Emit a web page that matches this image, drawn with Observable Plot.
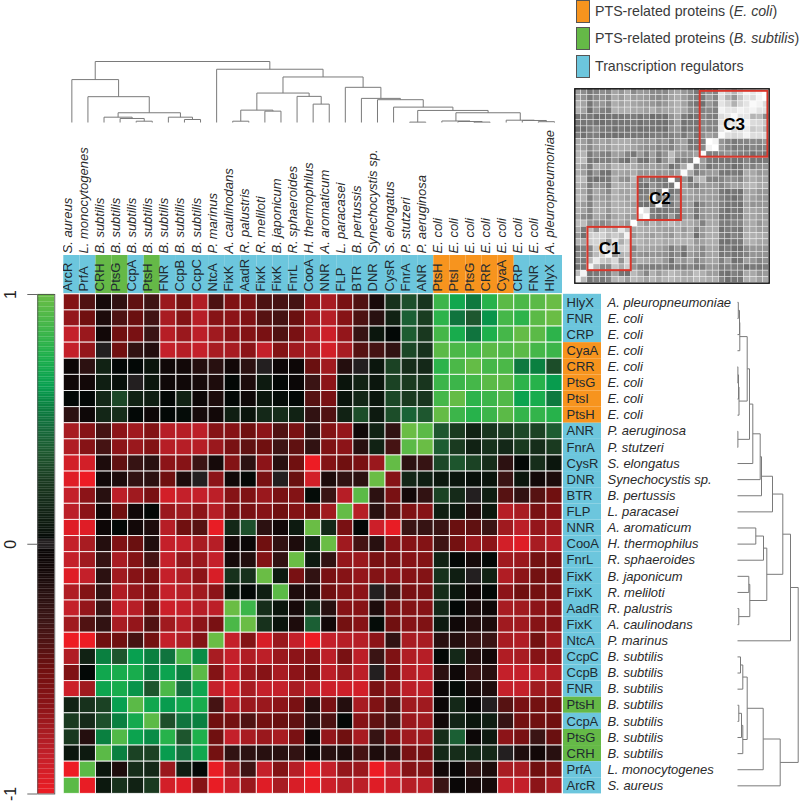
<!DOCTYPE html>
<html>
<head>
<meta charset="utf-8">
<script src="https://cdn.jsdelivr.net/npm/d3@7"></script>
<script src="https://cdn.jsdelivr.net/npm/@observablehq/plot@0.6"></script>
<style>
html,body{margin:0;padding:0;background:#fff}
#root{position:relative;width:800px;height:801px;overflow:hidden;font-family:"Liberation Sans",Arial,sans-serif}
#root svg{position:absolute;background:transparent}
.sw{position:absolute;left:576px;width:12px;height:21px;border:1px solid #555}
.lg{position:absolute;left:595px;font-size:14.2px;line-height:16px;color:#3a3a3a;white-space:nowrap}
</style>
</head>
<body>
<div id="root"></div>
<script>
const genes = ["ArcR","PrfA","CRH","PtsG","CcpA","PtsH","FNR","CcpB","CcpC","NtcA","FixK","AadR","FixK","FixK","FnrL","CooA","NNR","FLP","BTR","DNR","CysR","FnrA","ANR","PtsH","PtsI","PtsG","CRR","CyaA","CRP","FNR","HlyX"];
const species = ["S. aureus","L. monocytogenes","B. subtilis","B. subtilis","B. subtilis","B. subtilis","B. subtilis","B. subtilis","B. subtilis","P. marinus","A. caulinodans","R. palustris","R. meliloti","B. japonicum","R. sphaeroides","H. thermophilus","A. aromaticum","L. paracasei","B. pertussis","Synechocystis sp.","S. elongatus","P. stutzeri","P. aeruginosa","E. coli","E. coli","E. coli","E. coli","E. coli","E. coli","E. coli","A. pleuropneumoniae"];
const groups = ["t","t","b","b","t","b","t","t","t","t","t","t","t","t","t","t","t","t","t","t","t","t","t","e","e","e","e","e","t","t","t"];
const groupColors = {t:"#6cc6dd", e:"#f7941e", b:"#65b947"};

// rows top to bottom (reverse of the column order), columns left to right
const corr = [
[-.6,-.4,-.12,-.25,-.45,-.32,-.7,-.52,-.78,-.38,-.58,-.55,-.38,-.36,-.35,-.65,-.75,-.55,-.4,-.13,.2,.33,.22,.85,.68,.52,.78,.95,.9,.95,1],
[-.68,-.5,-.15,-.38,-.48,-.33,-.75,-.6,-.8,-.62,-.65,-.58,-.42,-.35,-.48,-.7,-.8,-.62,-.38,-.2,.12,.4,.26,.8,.5,.36,.6,.88,.8,.95,1],
[-.85,-.7,-.1,-.5,-.55,-.3,-.8,-.7,-.82,-.72,-.65,-.6,-.55,-.4,-.55,-.75,-.88,-.68,-.28,.06,.02,.38,.24,.88,.72,.5,.75,.88,.98,.95,.8],
[-.85,-.68,0,-.5,-.25,-.18,-.85,-.8,-.85,-.75,-.75,-.65,-.85,-.6,-.72,-.75,-.9,-.75,-.42,-.35,-.25,.3,.2,.95,.9,.88,.95,.92,.95,.88,.85],
[-.05,-.22,.12,.02,.02,.05,-.08,-.1,-.18,-.2,-.1,-.22,0,-.05,-.05,-.48,-.72,-.18,0,.06,.28,.18,.15,.8,.9,.98,.88,.9,.52,.55,.32],
[-.08,-.1,.1,.04,0,.06,-.07,-.08,-.12,-.15,.02,-.15,.08,.02,-.03,-.3,-.65,.05,.12,.06,.28,.25,.22,.85,.85,.88,.95,.95,.8,.78,.62],
[.02,.02,.15,.3,.12,.1,.02,.12,-.05,-.15,.02,-.07,.06,.03,.02,-.42,-.55,.05,.14,.06,.3,.25,.22,.88,.98,.8,.85,.92,.65,.72,.52],
[-.22,-.06,.14,.18,.02,-.05,.02,.03,-.12,-.1,.1,.05,.15,.17,.12,-.25,-.4,.12,.32,.08,.32,.42,.36,.98,.85,.78,.85,.95,.82,.82,.78],
[-.75,-.62,-.35,-.65,-.72,-.6,-.8,-.8,-.82,-.62,-.62,-.5,-.65,-.4,-.55,-.25,-.6,-.68,-.08,.12,-.25,1,.95,.36,.25,.12,.22,.25,.3,.28,.38],
[-.78,-.62,-.35,-.65,-.7,-.6,-.8,-.8,-.8,-.7,-.55,-.45,-.5,-.32,-.45,-.25,-.58,-.65,-.2,.12,-.35,.95,1,.38,.25,.12,.2,.15,.25,.18,.25],
[-.9,-.9,-.15,-.45,-.28,-.2,-.65,-.62,-.3,-.12,-.6,-.22,-.65,-.2,-.5,-1,-.6,-.5,-.55,-.7,.98,-.22,-.28,.3,.35,.28,.18,-.22,.02,.18,.06],
[-.95,-1,-.08,-.15,-.25,-.22,-.5,-.15,0,-.65,-.08,.02,-.55,0,-.48,-.9,-.15,-.25,-.22,1,-.62,.14,.1,.07,.06,.04,.05,-.3,.06,-.1,-.15],
[-.85,-.65,-.2,-.82,-.72,-.55,-.9,-.85,-.85,-.82,-.62,-.58,-.7,-.55,-.6,.03,-.3,-.8,.95,-.22,-.55,-.1,-.25,.28,.16,0,.1,-.42,-.25,-.42,-.5],
[-.82,-.65,-.1,-.5,-.08,.02,-.7,-.72,-.65,-.8,-.55,-.55,-.62,-.5,-.6,-.5,-.72,.98,-.8,-.2,-.45,-.58,-.62,.1,.08,-.18,.07,-.8,-.75,-.55,-.62],
[-.95,-.95,-.05,.02,-.1,-.15,-.8,-.5,-.42,-.98,.15,.33,-.22,-.1,.08,1,.15,-.55,.02,-.88,-.98,-.3,-.28,-.3,-.48,-.45,-.3,-.72,-.82,-.68,-.7],
[-.85,-.75,-.18,-.58,-.48,-.17,-.85,-.85,-.75,-.8,-.12,-.02,-.5,-.25,-.15,.12,1,-.72,-.35,-.2,-.62,-.62,-.6,-.32,-.52,-.7,-.65,-.9,-.95,-.75,-.8],
[-.85,-.72,-.28,-.75,-.6,-.35,-.85,-.68,-.7,-.85,-.12,-.17,-.6,-.25,1,.08,-.25,-.68,-.7,-.55,-.55,-.62,-.6,.12,.02,-.12,.02,-.72,-.7,-.52,-.55],
[-.95,-.85,-.22,-.72,-.62,-.52,-.85,-.78,-.65,-.92,.2,.2,1,.08,-.55,-.25,-.55,-.62,-.68,-.6,-.65,-.62,-.6,.2,.1,0,.12,-.78,-.65,-.52,-.55],
[-.78,-.6,-.25,-.78,-.68,-.55,-.85,-.8,-.72,-.65,.06,.02,.1,.95,-.15,-.15,-.5,-.6,-.65,0,-.35,-.55,-.55,.18,.06,-.1,.02,-.65,-.5,-.52,-.55],
[-.85,-.68,-.3,-.85,-.8,-.52,-.88,-.85,-.8,-.82,1,.85,.18,.06,-.12,.17,-.2,-.62,-.62,-.15,-.55,-.6,-.62,.15,.02,-.15,-.07,-.75,-.72,-.65,-.62],
[-.72,-.4,-.25,-.75,-.68,-.4,-.72,-.8,-.65,-.55,.9,1,.2,.05,-.15,.4,-.1,-.52,-.62,.03,-.5,-.62,-.58,.08,-.08,-.18,-.15,-.72,-.72,-.62,-.62],
[-1,-1,-.5,-.5,-.35,-.52,-.85,-.78,-.6,1,-.85,-.6,-.92,-.7,-.85,-1,-.85,-.8,-.8,-.65,-.25,-.75,-.75,-.2,-.18,-.3,-.3,-.75,-.78,-.52,-.72],
[-.78,.12,.55,.35,.63,.55,.5,.9,.58,-.75,-.85,-.78,-.82,-.7,-.65,-.62,-.82,-.55,-.82,-.3,-.58,-.78,-.8,.02,.15,-.18,-.1,-.78,-.75,-.62,-.65],
[-.58,.02,.68,.72,.72,.55,.65,.55,.95,-.6,-.85,-.7,-.62,-.75,-.65,-.52,-.82,-.7,-.82,0,-.55,-.8,-.82,-.22,-.07,-.3,-.2,-.85,-.85,-.82,-.78],
[-.88,-.72,.66,.72,.6,.35,.9,.48,.67,-.85,-.9,-.75,-.85,-.85,-.75,-.82,-.88,-.88,-.9,-.55,-.68,-.82,-.82,-.05,.03,-.14,-.16,-.85,-.85,-.72,-.72],
[.12,.2,.28,.63,.95,.68,.62,.68,.72,-.35,-.8,-.7,-.7,-.65,-.55,-.18,-.55,-.18,-.75,-.58,-.38,-.72,-.72,-.05,.15,-.02,0,-.42,-.55,-.52,-.52],
[.25,.16,.33,.55,.7,.95,.33,.5,.55,-.5,-.52,-.4,-.52,-.48,-.45,-.2,-.38,.02,-.62,-.45,-.35,-.7,-.72,-.1,.13,.06,.1,-.28,-.52,-.5,-.5],
[.24,-.18,.55,.92,.65,.58,.78,.35,.75,-.5,-.85,-.75,-.7,-.75,-.55,-.06,-.68,-.5,-.75,-.28,-.55,-.72,-.72,.18,.4,-.04,.08,-.65,-.55,-.3,-.48],
[.06,.08,.95,.55,.28,.28,.62,.48,.68,-.52,-.25,-.22,-.2,-.2,-.25,-.08,-.2,-.15,-.35,-.15,-.22,-.55,-.55,.15,.18,.15,.15,0,-.16,-.1,-.2],
[-1,.95,.06,-.15,.18,.15,-.7,.1,.02,-.98,-.72,-.32,-.85,-.6,-.8,-.98,-.85,-.68,-.7,-1,-.85,-.62,-.62,-.1,-.02,-.25,-.15,-.75,-.75,-.5,-.58],
[.95,-.98,.07,.2,.12,.25,-.9,-.95,-.62,-.98,-.88,-.7,-.95,-.75,-.92,-.98,-.88,-.8,-.82,-.95,-.88,-.8,-.82,-.3,-.02,-.12,-.12,-.85,-.85,-.65,-.75]
];

// dendrogram: [child, child, height]; a number is a column, "nK" an earlier merge
const merges = [
[4,5,1.3],[3,"n0",4],[2,"n1",5.3],[7,8,3],[6,"n3",5.3],["n2","n4",9.7],[1,"n5",25.7],[0,"n6",42.7],
[10,11,1.3],[12,13,11.3],["n8","n9",12.3],[15,16,18.3],[14,"n11",26],["n10","n12",29.3],
[29,30,.8],[28,"n14",2],[27,"n15",2.3],[25,26,.4],[24,"n17",1],[23,"n18",1.5],["n19","n16",9.7],
[21,22,.4],["n21","n20",12],[20,"n22",15.3],[19,"n23",22.7],[18,"n24",24],[17,"n25",35],
["n13","n26",45.3],[9,"n27",53],["n7","n28",60.7]
];
const treeTop = 60.7;

const colorStops = [
[-1,"#ed1c24"],[-.85,"#c4202a"],[-.75,"#a81c22"],[-.65,"#8c1418"],[-.5,"#701010"],[-.4,"#501212"],[-.3,"#3a1414"],[-.2,"#281010"],[-.1,"#120808"],[-.0151,"#0a0707"],
[-.015,"#231f20"],[.015,"#231f20"],
[.0151,"#020605"],[.05,"#0a140c"],[.15,"#142818"],[.25,"#1a3a20"],[.37,"#1e5a30"],[.47,"#146c3c"],[.55,"#0a8040"],[.63,"#08a050"],[.75,"#1eb04c"],[.85,"#3cb54a"],[1,"#6abd45"]
];
const colorScale = {type:"linear", domain:colorStops.map(d=>d[0]), range:colorStops.map(d=>d[1]), interpolate:"rgb", clamp:true};
const barSteps = d3.range(-1,1,.01);

const grayStops = [[-1,"#bcbcbc"],[-.5,"#939393"],[0,"#6e6e6e"],[.3,"#8a8a8a"],[.6,"#c4c4c4"],[.9,"#e6e6e6"],[1,"#ffffff"]];
const clusters = [
 {name:"C1",x1:2.1,x2:9,y1:22.1,y2:29},
 {name:"C2",x1:10.1,x2:17,y1:14.1,y2:21},
 {name:"C3",x1:20,x2:30.8,y1:.4,y2:10.9}
];
const legendItems = [
 {key:"e",html:"PTS-related proteins (<i>E. coli</i>)",top:0},
 {key:"b",html:"PTS-related proteins (<i>B. subtilis</i>)",top:27},
 {key:"t",html:"Transcription regulators",top:55}
];

const idx = d3.range(31);
const cells = corr.flatMap((row,r)=>row.map((v,c)=>({r,c,v})));
const FONT = "Liberation Sans, Arial, sans-serif";
const root = document.getElementById("root");
function place(svg,left,top){svg.style.left=left+"px";svg.style.top=top+"px";root.appendChild(svg);}
const bandX = {type:"band",domain:idx,padding:0,round:false,axis:null};
const bandY = {type:"band",domain:idx,padding:0,round:false,axis:null};

// dendrogram segments
const nodes=[], segs=[];
const at = k => typeof k==="number" ? {p:k+.5,h:0} : nodes[+k.slice(1)];
merges.forEach(([a,b,h])=>{
  const A=at(a),B=at(b);
  segs.push({p1:A.p,p2:B.p,h1:h,h2:h},{p1:A.p,p2:A.p,h1:A.h,h2:h},{p1:B.p,p2:B.p,h1:B.h,h2:h});
  nodes.push({p:(A.p+B.p)/2,h});
});

// top dendrogram
place(Plot.plot({width:500,height:70,marginLeft:.3,marginRight:1,marginTop:6,marginBottom:3,
  x:{domain:[0,31],axis:null},y:{domain:[0,treeTop],axis:null},
  marks:[Plot.link(segs,{x1:"p1",x2:"p2",y1:"h1",y2:"h2",stroke:"#7a7a7a",strokeWidth:1})]}),63,55);

// top species labels
place(Plot.plot({width:500,height:130,marginLeft:.3,marginRight:1,marginTop:0,marginBottom:0,
  x:bandX,y:{axis:null},
  marks:[Plot.text(species,{x:(d,i)=>i,text:d=>d,frameAnchor:"bottom",rotate:-90,textAnchor:"start",dy:-2,fontSize:13,fontStyle:"italic",fontFamily:FONT,fill:"#2a2a2a"})]}),63,125);

// top strip
place(Plot.plot({width:500,height:38,marginLeft:.3,marginRight:1,marginTop:0,marginBottom:0,
  x:bandX,y:{type:"band",domain:[0],padding:0,round:false,axis:null},
  marks:[
    Plot.cell(idx,{x:d=>d,y:()=>0,fill:d=>groupColors[groups[d]]}),
    Plot.text(idx,{x:d=>d,text:d=>genes[d],frameAnchor:"bottom",rotate:-90,textAnchor:"start",dy:-2,fontSize:13,fontFamily:FONT,fill:"#1e2a30"})
  ]}),63,255);

// main heat map
place(Plot.plot({width:500,height:501,marginLeft:.3,marginRight:1,marginTop:.8,marginBottom:.6,
  x:bandX,y:bandY,color:colorScale,
  marks:[Plot.cell(cells,{x:"c",y:"r",fill:"v",stroke:"#fff",strokeOpacity:.85,strokeWidth:1})]}),63,293);

// right strip
place(Plot.plot({width:38,height:501,marginLeft:0,marginRight:0,marginTop:.8,marginBottom:.6,
  y:bandY,x:{type:"band",domain:[0],padding:0,round:false,axis:null},
  marks:[
    Plot.cell(idx,{y:d=>d,x:()=>0,fill:d=>groupColors[groups[30-d]]}),
    Plot.text(idx,{y:d=>d,text:d=>genes[30-d],frameAnchor:"left",textAnchor:"start",dx:3,fontSize:13,fontFamily:FONT,fill:"#1e2a30"})
  ]}),563,293);

// right species labels
place(Plot.plot({width:136,height:501,marginLeft:0,marginRight:0,marginTop:.8,marginBottom:.6,
  y:bandY,x:{axis:null},
  marks:[Plot.text(idx,{y:d=>d,text:d=>species[30-d],frameAnchor:"left",textAnchor:"start",dx:6,fontSize:13,fontStyle:"italic",fontFamily:FONT,fill:"#2a2a2a"})]}),601,293);

// right dendrogram
place(Plot.plot({width:63,height:501,marginLeft:0,marginRight:2.3,marginTop:.8,marginBottom:.6,
  x:{domain:[0,treeTop],axis:null},y:{domain:[0,31],axis:null},
  marks:[Plot.link(segs,{x1:"h1",x2:"h2",y1:"p1",y2:"p2",stroke:"#7a7a7a",strokeWidth:1})]}),737,293);

// colour bar
place(Plot.plot({width:62,height:516,marginLeft:37.3,marginRight:7.7,marginTop:9,marginBottom:7.5,
  x:{domain:[0,1],axis:null},y:{domain:[-1,1],axis:null},color:colorScale,
  marks:[
    Plot.rect(barSteps,{x1:()=>0,x2:()=>1,y1:d=>d,y2:d=>d+.0105,fill:d=>d+.005}),
    Plot.frame({stroke:"#4a4a4a",strokeWidth:.8}),
    Plot.axisY({ticks:[-1,0,1],tickSize:10,tickPadding:12,tickRotate:-90,tickFormat:d=>String(d),fontSize:16,fontFamily:FONT,stroke:"#666",color:"#222",label:null,anchor:"left"})
  ]}),0,285);

// grey inset
place(Plot.plot({width:197,height:197,marginLeft:1.3,marginRight:1.3,marginTop:1.3,marginBottom:1.3,
  x:{domain:[0,31],axis:null},y:{domain:[0,31],reverse:true,axis:null},
  color:{type:"linear",domain:grayStops.map(d=>d[0]),range:grayStops.map(d=>d[1]),interpolate:"rgb"},
  marks:[
    Plot.rect(cells,{x1:"c",x2:d=>d.c+1,y1:"r",y2:d=>d.r+1,fill:"v",stroke:"#fff",strokeOpacity:.6,strokeWidth:.6}),
    Plot.rect(clusters,{x1:"x1",x2:"x2",y1:"y1",y2:"y2",stroke:"#d9352a",strokeWidth:2,fill:"none"}),
    Plot.text(clusters,{x:d=>(d.x1+d.x2)/2,y:d=>(d.y1+d.y2)/2,text:"name",fontSize:17,fontWeight:"bold",fontFamily:FONT,fill:"#000"}),
    Plot.frame({stroke:"#111",strokeWidth:1.4})
  ]}),573,87);

// legend
legendItems.forEach(it=>{
  const s=document.createElement("div");s.className="sw";s.style.top=it.top+"px";s.style.background=groupColors[it.key];root.appendChild(s);
  const t=document.createElement("div");t.className="lg";t.style.top=(it.top+3)+"px";t.innerHTML=it.html;root.appendChild(t);
});
</script>
</body>
</html>
